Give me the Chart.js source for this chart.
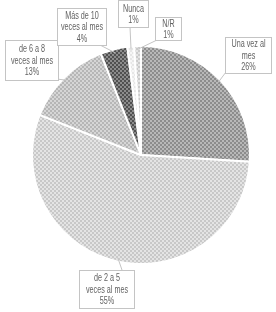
<!DOCTYPE html>
<html>
<head>
<meta charset="utf-8">
<script src="https://cdn.jsdelivr.net/npm/chart.js@4.4.1/dist/chart.umd.min.js"></script>
<style>
  html, body { margin: 0; padding: 0; background: #ffffff; }
  #wrap { width: 276px; height: 312px; }
</style>
</head>
<body>
<div id="wrap"><canvas id="pieCanvas" width="276" height="312"></canvas></div>
<script>
var categorias = ["Una vez al mes", "de 2 a 5 veces al mes", "de 6 a 8 veces al mes", "Más de 10 veces al mes", "Nunca", "N/R"];
var valores    = [26, 55, 13, 4, 1, 1];
var etiquetas  = [["Una vez al", "mes", "26%"], ["de 2 a 5", "veces al mes", "55%"], ["de 6 a 8", "veces al mes", "13%"], ["Más de 10", "veces al mes", "4%"], ["Nunca", "1%"], ["N/R", "1%"]];

// two grays per slice, used as a small checker pattern (like the excel fills)
var tonos = [["#8c8c8c", "#b8b8b8"], ["#c8c8c8", "#e4e4e4"], ["#b6b6b6", "#d6d6d6"], ["#505050", "#8c8c8c"], ["#e6e6e6", "#f6f6f6"], ["#cacaca", "#e4e4e4"]];

// where each callout box sits: [left, top, width, height] and the point the leader leaves the box
var cajas = [
  [225, 37, 46, 36, 226, 72],
  [79, 270, 55, 38, 122, 270],
  [5, 40, 53, 40, 57, 79],
  [57, 8, 49, 37, 100, 45],
  [118, 0, 30, 27, 130, 27],
  [155, 17, 26, 23, 157, 40]
];

function patron(c1, c2) {
  var t = document.createElement("canvas");
  t.width = 4; t.height = 4;
  var g = t.getContext("2d");
  g.fillStyle = c2; g.fillRect(0, 0, 4, 4);
  g.fillStyle = c1;
  g.fillRect(0, 0, 2, 2);
  g.fillRect(2, 2, 2, 2);
  return g.createPattern(t, "repeat");
}

var rellenos = tonos.map(function (p) { return patron(p[0], p[1]); });

var callouts = {
  id: "callouts",
  afterDraw: function (chart) {
    var ctx = chart.ctx;
    var arcs = chart.getDatasetMeta(0).data;
    ctx.save();
    ctx.font = "10px 'Liberation Sans', sans-serif";
    ctx.textAlign = "center";
    ctx.textBaseline = "middle";
    arcs.forEach(function (arc, i) {
      var b = cajas[i];
      var mid = (arc.startAngle + arc.endAngle) / 2;
      var px = arc.x + Math.cos(mid) * arc.outerRadius * 0.97;
      var py = arc.y + Math.sin(mid) * arc.outerRadius * 0.97;
      // leader line
      ctx.strokeStyle = "#c4c4c4";
      ctx.lineWidth = 1;
      ctx.beginPath();
      ctx.moveTo(b[4], b[5]);
      ctx.lineTo(px, py);
      ctx.stroke();
      // box
      ctx.fillStyle = "#ffffff";
      ctx.fillRect(b[0] + 0.5, b[1] + 0.5, b[2], b[3]);
      ctx.strokeRect(b[0] + 0.5, b[1] + 0.5, b[2], b[3]);
      // text, squeezed a bit to look like calibri
      ctx.fillStyle = "#626262";
      var lines = etiquetas[i];
      var lh = 11.5;
      var y0 = b[1] + b[3] / 2 - (lines.length - 1) * lh / 2 + 1;
      var cx = b[0] + b[2] / 2 + 0.5;
      lines.forEach(function (t, k) {
        ctx.save();
        ctx.translate(cx, y0 + k * lh);
        ctx.scale(0.72, 1);
        ctx.fillText(t, 0, 0);
        ctx.restore();
      });
    });
    ctx.restore();
  }
};

new Chart(document.getElementById("pieCanvas"), {
  type: "pie",
  data: {
    labels: categorias,
    datasets: [{
      data: valores,
      backgroundColor: rellenos,
      borderColor: "#ffffff",
      borderWidth: 2
    }]
  },
  options: {
    responsive: false,
    maintainAspectRatio: false,
    animation: false,
    layout: { padding: { left: 31, right: 25, top: 45, bottom: 47 } },
    plugins: {
      legend: { display: false },
      tooltip: { enabled: false }
    }
  },
  plugins: [callouts]
});
</script>
</body>
</html>
